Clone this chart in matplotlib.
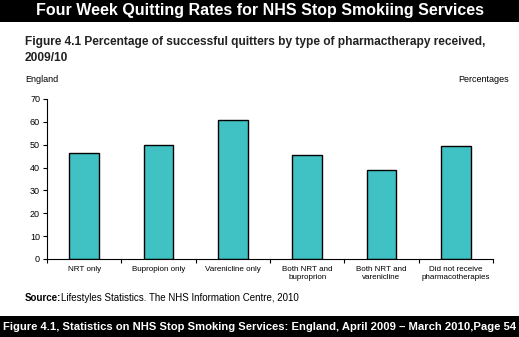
import matplotlib.pyplot as plt
from matplotlib.patches import Rectangle

plt.rcParams['font.family'] = ['Liberation Sans', 'DejaVu Sans']

# quit rates by pharmacotherapy, England 2009/10
categories = ['NRT only', 'Bupropion only', 'Varenicline only',
              'Both NRT and\nbuproprion', 'Both NRT and\nvarenicline',
              'Did not receive\npharmacotherapies']
rates = [46.2, 49.7, 60.8, 45.4, 38.8, 49.3]

W, H = 519, 337
fig = plt.figure(figsize=(W / 100, H / 100), dpi=100)
fig.patch.set_facecolor('white')

# black banners top and bottom
fig.add_artist(Rectangle((0, 1 - 22 / H), 1, 22 / H, transform=fig.transFigure,
                         facecolor='black', edgecolor='none'))
fig.add_artist(Rectangle((0, 0), 1, 21 / H, transform=fig.transFigure,
                         facecolor='black', edgecolor='none'))
fig.text(0.5, 1 - 11 / H, 'Four Week Quitting Rates for NHS Stop Smokiing Services',
         color='white', fontsize=11.5, fontweight='bold', ha='center', va='center')
fig.text(0.5, 10.5 / H,
         'Figure 4.1, Statistics on NHS Stop Smoking Services: England, April 2009 \u2013 March 2010,Page 54',
         color='white', fontsize=8.1, fontweight='bold', ha='center', va='center')

fig.text(25 / W, 1 - 42 / H,
         'Figure 4.1 Percentage of successful quitters by type of pharmactherapy received,',
         fontsize=8.6, fontweight='bold', color='#222222', va='center')
fig.text(25 / W, 1 - 58 / H, '2009/10', fontsize=8.6, fontweight='bold',
         color='#222222', va='center')
fig.text(25 / W, 1 - 79 / H, 'England', fontsize=6.5, va='center')
fig.text(509 / W, 1 - 79 / H, 'Percentages', fontsize=6.5, va='center', ha='right')
fig.text(25 / W, 1 - 298 / H, 'Source:', fontsize=7, fontweight='bold', va='center')
fig.text(61 / W, 1 - 298 / H, 'Lifestyles Statistics. The NHS Information Centre, 2010',
         fontsize=7, va='center')

ax = fig.add_axes([47 / W, 1 - 259 / H, (493 - 47) / W, (259 - 99) / H])
x = range(len(categories))
ax.bar(x, rates, width=0.4, color='#40C2C4', edgecolor='black', linewidth=1)

ax.set_xlim(-0.5, len(categories) - 0.5)
ax.set_ylim(0, 70)
ax.set_yticks(range(0, 71, 10))
ax.tick_params(axis='y', labelsize=6.5, length=3, width=0.8, pad=2)
# boundary ticks between categories, labels centred under bars
ax.set_xticks([i + 0.5 for i in range(-1, len(categories))], minor=False)
ax.set_xticklabels([])
ax.set_xticks(list(x), minor=True)
ax.set_xticklabels(categories, minor=True, fontsize=5.8)
ax.tick_params(axis='x', which='major', length=3, width=0.8)
ax.tick_params(axis='x', which='minor', length=0, pad=5)

for side in ['top', 'right']:
    ax.spines[side].set_visible(False)
ax.spines['left'].set_linewidth(0.8)
ax.spines['bottom'].set_linewidth(0.8)

fig.savefig('out.png', dpi=100)
